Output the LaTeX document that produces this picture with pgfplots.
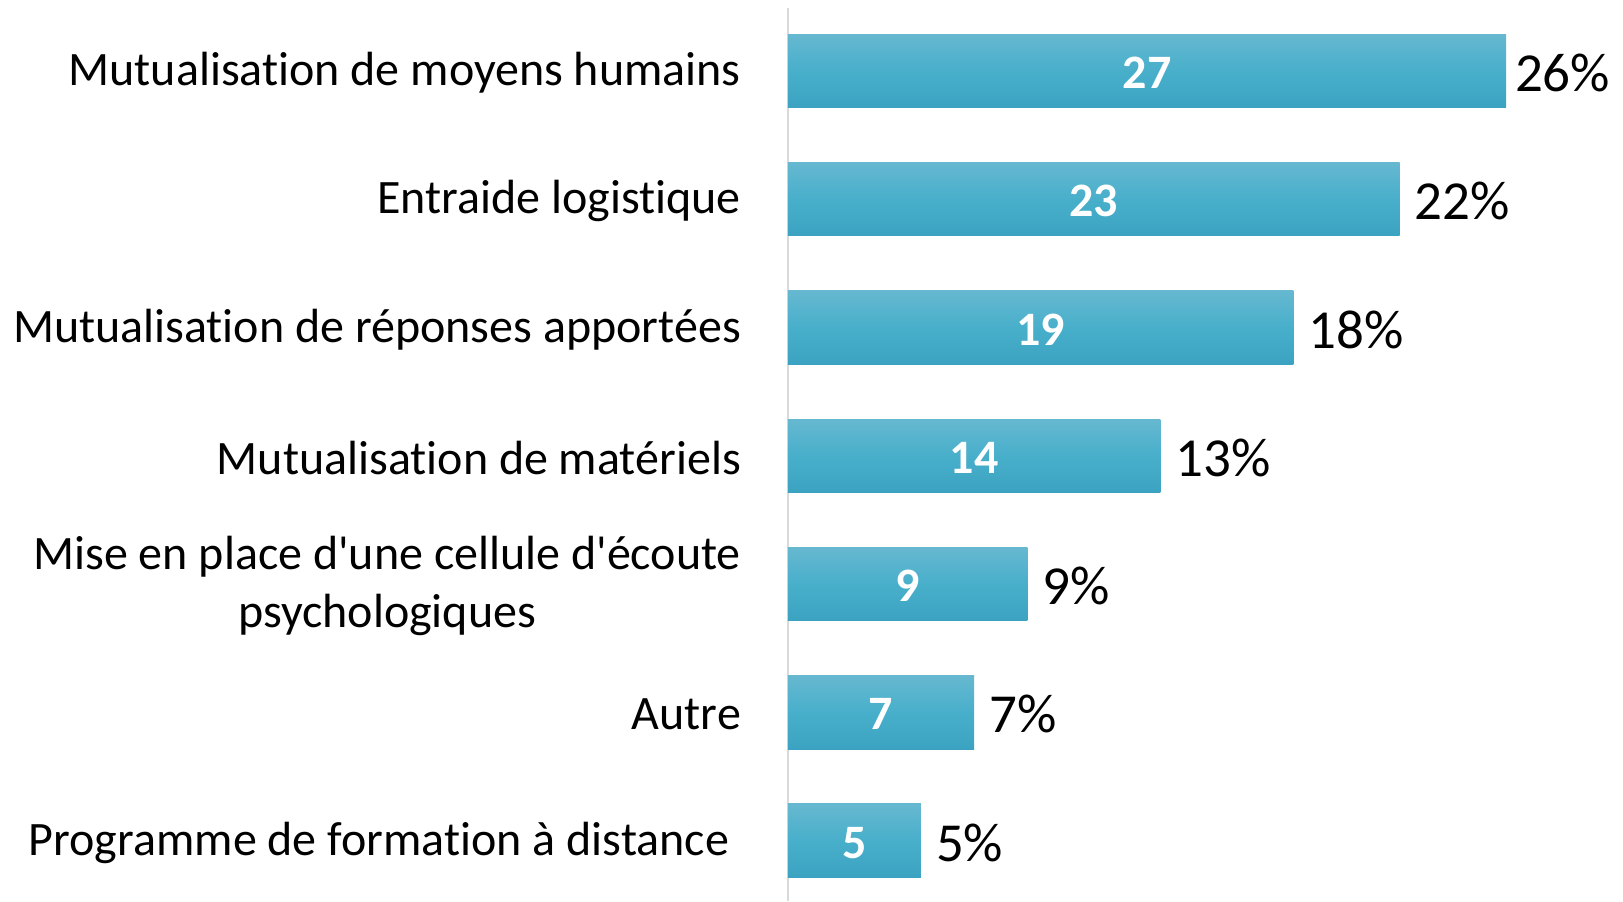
\documentclass[border=0pt]{standalone}
\usepackage{pgfplots}
\pgfplotsset{compat=1.18}
\usepackage{pgfplotstable}
\usepackage{fontspec}
\setmainfont{Carlito}[Ligatures=NoCommon]
\definecolor{barTop}{HTML}{66B8D0}
\definecolor{barMid}{HTML}{48AFCB}
\definecolor{barBot}{HTML}{3BA2C1}
\definecolor{axisGray}{HTML}{D9D9D9}

% y = position (top bar = 6), n = count, h = half of n (label spot), pct = share
\pgfplotstableread{
y n h pct
6 27 13.5 26\%
5 23 11.5 22\%
4 19 9.5 18\%
3 14 7.0 13\%
2 9 4.5 9\%
1 7 3.5 7\%
0 5 2.5 5\%
}\datatable

\begin{document}
\begin{tikzpicture}
  \begin{axis}[
      at={(394pt,0pt)}, anchor=south west,
      scale only axis,
      width=417.5pt, height=446.5pt,
      xmin=0, xmax=31.4,
      ymin=-0.47, ymax=6.49,
      axis x line=none,
      axis y line*=left,
      y axis line style={-, draw=axisGray, line width=1.2pt},
      ytick={0,...,6},
      yticklabels={{Programme de formation à distance\hspace{6pt}}, Autre,
        {Mise en place d\textquotesingle une cellule d\textquotesingle écoute\\psychologiques},
        Mutualisation de matériels, Mutualisation de réponses apportées,
        Entraide logistique, Mutualisation de moyens humains},
      yticklabel style={font=\fontsize{24}{29}\selectfont, align=center, xshift=-20pt, yshift=-1pt},
      major tick length=0pt,
      clip=false,
    ]
    % one plot per bar so that each bar gets its own gradient
    \pgfplotsinvokeforeach{0,...,6}{
      \addplot[xbar, bar width=36.7pt, bar shift=0pt, draw=none,
        top color=barTop, bottom color=barBot, middle color=barMid,
        y filter/.expression={abs(y-#1)<0.1 ? y : nan},
        point meta=explicit symbolic,
        nodes near coords,
        nodes near coords style={anchor=west, xshift={ifthenelse(#1==6,1,4)*1pt}, yshift=-1pt,
          font=\fontsize{27.5}{32}\selectfont, text=black}]
        table[x=n, y=y, meta=pct] {\datatable};
    }
    \addplot[only marks, mark=none,
      point meta=explicit symbolic,
      nodes near coords,
      nodes near coords style={anchor=center, yshift=-1pt, font=\bfseries\fontsize{24}{28}\selectfont, text=white}]
      table[x=h, y=y, meta=n] {\datatable};
  \end{axis}
  \pgfresetboundingbox
  \path (0,0) rectangle (811.5pt,450.5pt);
\end{tikzpicture}
\end{document}
